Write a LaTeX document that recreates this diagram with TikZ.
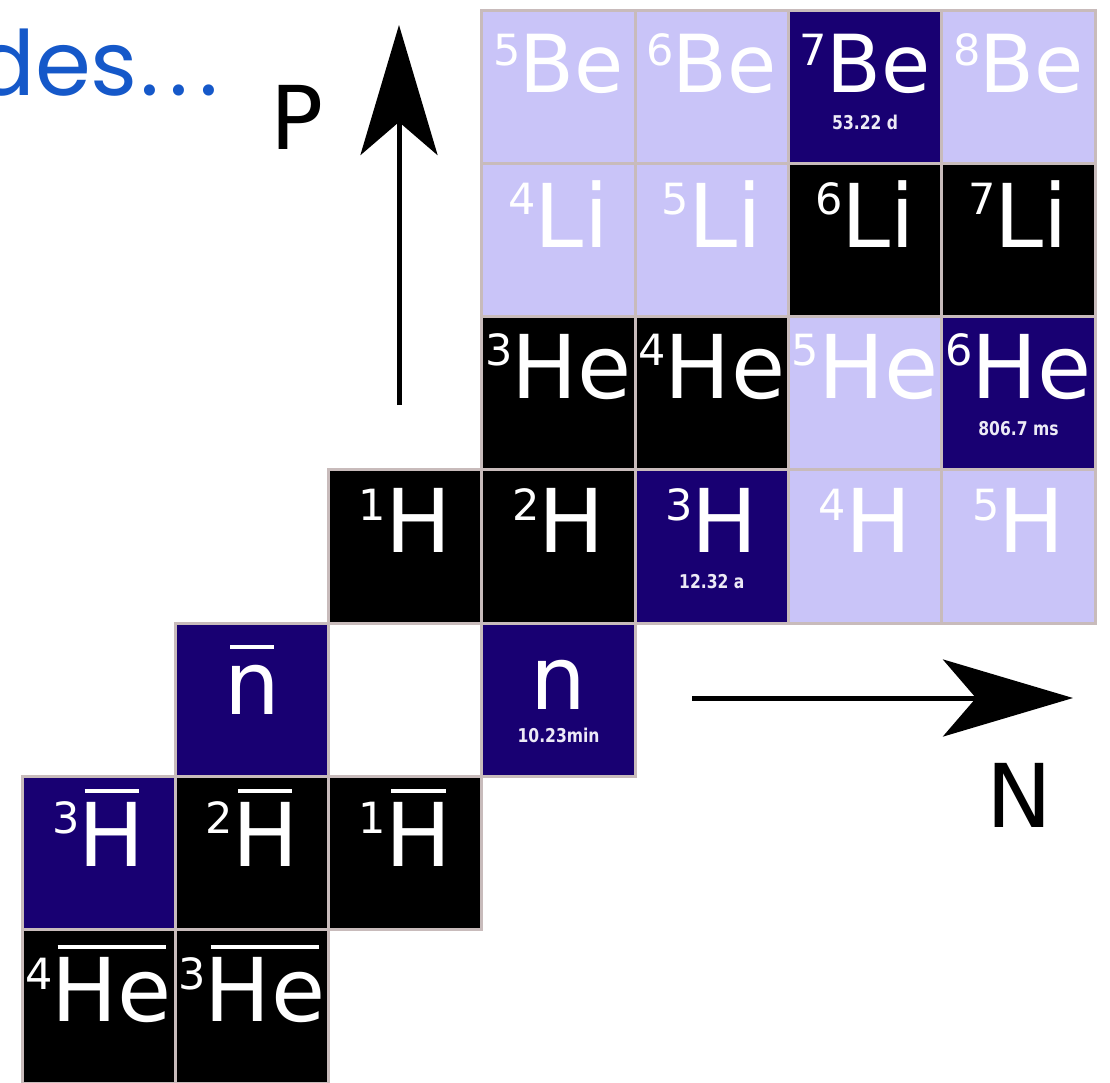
\documentclass[tikz,border=0pt]{standalone}
\usepackage{fontspec}
\setmainfont{DejaVu Sans}
\newfontfamily\hlfont{DejaVu Sans}[FakeStretch=0.82]
\newfontfamily\titlefont{Poppins}
\usetikzlibrary{arrows.meta}
\definecolor{lav}{HTML}{C9C4F8}
\definecolor{dblue}{HTML}{180072}
\definecolor{gridc}{HTML}{C8BBBB}
\definecolor{titleblue}{HTML}{1558C9}
\definecolor{hlwhite}{HTML}{ECEAF6}
% #1 size, #2 raise, #3 mass number, #4 symbol
\newcommand\nuc[4]{\mbox{\raisebox{#2}{\fontsize{21.5}{24}\selectfont #3}\kern-0.5pt\fontsize{#1}{#1}\selectfont #4}}
% overlined symbol: #1 text, #2 gap above
\newcommand\bsym[2]{\setbox0\hbox{#1}\rlap{\kern3pt\raisebox{\dimexpr\ht0+#2\relax}{\rule{\dimexpr\wd0-6pt\relax}{2pt}}}\box0}
% #1 col, #2 row, #3 fill, #4 name, #5 baseline offset (px), #6 text
\newcommand\cell[6]{%
  \node[cellbox,fill=#3] (#4) at ({98.65+153.3*#1},{86.65+153.3*#2}) {};
  \node[symt] (#4-s) at ([yshift={-(#5-76.65)*0.5pt}]#4.center) {#6};}
\begin{document}
\begin{tikzpicture}[x=0.5pt,y=-0.5pt,
  cellbox/.style={rectangle,draw=gridc,line width=1.5pt,minimum size=76.65pt,inner sep=0pt,outer sep=0pt},
  symt/.style={anchor=base,inner sep=0pt,text=white},
  hlt/.style={inner sep=0pt,text=hlwhite,font=\hlfont\bfseries\fontsize{9.5}{10}\selectfont},
  axisarrow/.style={line width=2.5pt,-{Stealth[length=65pt,width=38.5pt,inset=16.5pt]}},
  axislabel/.style={inner sep=0pt,font=\fontsize{44}{44}\selectfont},
  titletext/.style={inner sep=0pt,text=titleblue,font=\titlefont\fontsize{45}{45}\selectfont}]
\useasboundingbox (0,0) rectangle (1110,1083);
\fill[white] (0,0) rectangle (1110,1083);
% title fragment
\node[titletext,anchor=base east] (title) at (219,95) {des\kern1.5pt.\kern5pt.\kern5.5pt.};
% row 0: Be
\cell{3}{0}{lav}{be5}{82}{\nuc{40}{13.5pt}{5}{Be}}
\cell{4}{0}{lav}{be6}{82}{\nuc{40}{13.5pt}{6}{Be}}
\cell{5}{0}{dblue}{be7}{82}{\nuc{40}{13.5pt}{7}{Be}}
\cell{6}{0}{lav}{be8}{82}{\nuc{40}{13.5pt}{8}{Be}}
\node[hlt] (be7-hl) at ([yshift=-17.7pt]be7.center) {53.22 d};
% row 1: Li
\cell{3}{1}{lav}{li4}{84}{\nuc{44}{16.4pt}{4}{Li}}
\cell{4}{1}{lav}{li5}{84}{\nuc{44}{16.4pt}{5}{Li}}
\cell{5}{1}{black}{li6}{84}{\nuc{44}{16.4pt}{6}{Li}}
\cell{6}{1}{black}{li7}{84}{\nuc{44}{16.4pt}{7}{Li}}
% row 2: He
\cell{3}{2}{black}{he3}{82}{\nuc{44}{16.4pt}{3}{He}}
\cell{4}{2}{black}{he4}{82}{\nuc{44}{16.4pt}{4}{He}}
\cell{5}{2}{lav}{he5}{82}{\nuc{44}{16.4pt}{5}{He}}
\cell{6}{2}{dblue}{he6}{82}{\nuc{44}{16.4pt}{6}{He}}
\node[hlt] (he6-hl) at ([yshift=-17.7pt]he6.center) {806.7 ms};
% row 3: H
\cell{2}{3}{black}{h1}{83}{\nuc{44}{16.4pt}{1}{H}}
\cell{3}{3}{black}{h2}{83}{\nuc{44}{16.4pt}{2}{H}}
\cell{4}{3}{dblue}{h3}{83}{\nuc{44}{16.4pt}{3}{H}}
\cell{5}{3}{lav}{h4}{83}{\nuc{44}{16.4pt}{4}{H}}
\cell{6}{3}{lav}{h5}{83}{\nuc{44}{16.4pt}{5}{H}}
\node[hlt] (h3-hl) at ([yshift=-17.7pt]h3.center) {12.32 a};
% row 4: neutrons
\cell{1}{4}{dblue}{nbar}{91}{\fontsize{44}{44}\selectfont\bsym{n}{8pt}}
\cell{3}{4}{dblue}{n}{86}{\fontsize{44}{44}\selectfont n}
\node[hlt] (n-hl) at ([yshift=-17.7pt]n.center) {10.23min};
% row 5: antihydrogen
\cell{0}{5}{dblue}{ah3}{90}{\nuc{44}{16.4pt}{3}{\bsym{H}{4.5pt}}}
\cell{1}{5}{black}{ah2}{90}{\nuc{44}{16.4pt}{2}{\bsym{H}{4.5pt}}}
\cell{2}{5}{black}{ah1}{90}{\nuc{44}{16.4pt}{1}{\bsym{H}{4.5pt}}}
% row 6: antihelium
\cell{0}{6}{black}{ahe4}{92}{\nuc{44}{16.4pt}{4}{\bsym{He}{4.5pt}}}
\cell{1}{6}{black}{ahe3}{92}{\nuc{44}{16.4pt}{3}{\bsym{He}{4.5pt}}}
% axes
\coordinate (pbot) at (399,405);
\coordinate (ptop) at (399,25);
\draw[axisarrow] (pbot) -- (ptop);
\node[axislabel] (plabel) at (297,117) {P};
\coordinate (nleft) at (692,698);
\coordinate (nright) at (1073,698);
\draw[axisarrow] (nleft) -- (nright);
\node[axislabel] (nlabel) at (1019,795) {N};
\end{tikzpicture}
\end{document}
